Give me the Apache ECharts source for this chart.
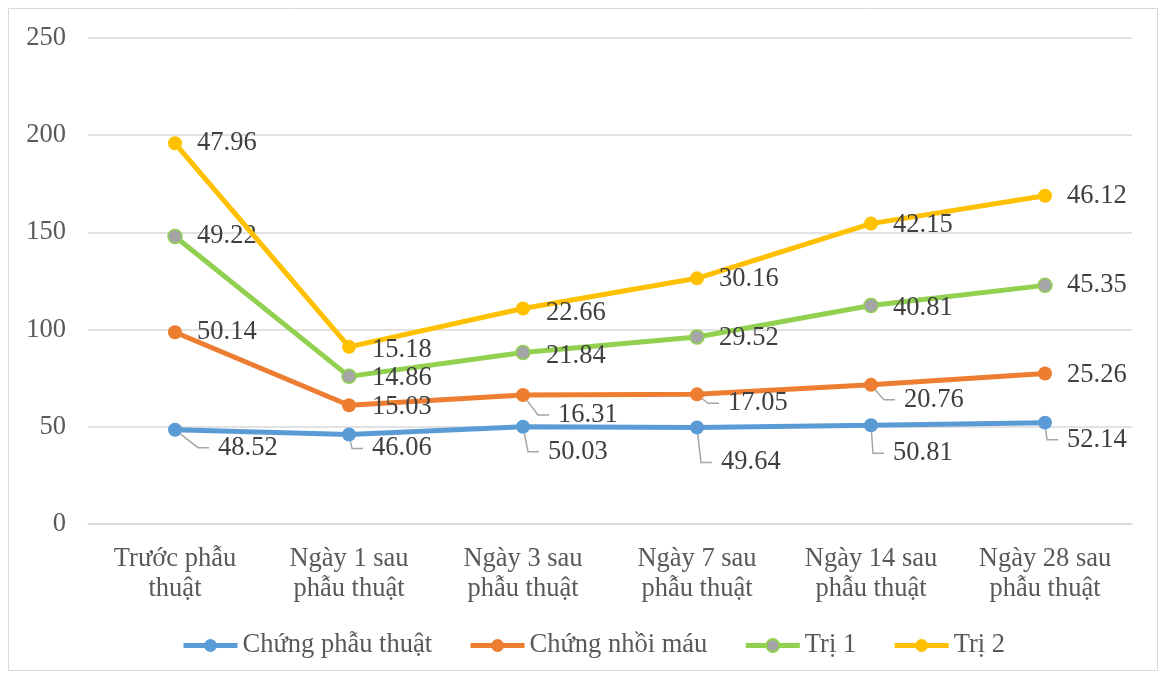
<!DOCTYPE html>
<html>
<head>
<meta charset="utf-8">
<script src="https://cdn.jsdelivr.net/npm/echarts@6/dist/echarts.min.js"></script>
<style>
  html, body { margin: 0; padding: 0; background: #fff; }
  #chart { width: 1159px; height: 675px; }
</style>
</head>
<body>
<div id="chart"></div>
<script>
// Categories (time points)
const categories = [
  'Trước phẫu\nthuật',
  'Ngày 1 sau\nphẫu thuật',
  'Ngày 3 sau\nphẫu thuật',
  'Ngày 7 sau\nphẫu thuật',
  'Ngày 14 sau\nphẫu thuật',
  'Ngày 28 sau\nphẫu thuật'
];

// Series names
const seriesNames = ['Chứng phẫu thuật', 'Chứng nhồi máu', 'Trị 1', 'Trị 2'];

// Series values (stacked)
const chungPhauThuat = [48.52, 46.06, 50.03, 49.64, 50.81, 52.14];
const chungNhoiMau   = [50.14, 15.03, 16.31, 17.05, 20.76, 25.26];
const tri1           = [49.22, 14.86, 21.84, 29.52, 40.81, 45.35];
const tri2           = [47.96, 15.18, 22.66, 30.16, 42.15, 46.12];

// Y axis ticks
const yMin = 0, yMax = 250, yStep = 50;

// Label placement: offset of the label text's left edge / vertical centre from the point
const labelNudge = [
  [[43, 18], [23, 14], [25, 25], [24, 35], [22, 28], [22, 17]],
  [[22, 0], [23, 2], [35, 20], [31, 9], [33, 15], [22, 2]],
  [[22, 0], [23, 2], [23, 3], [22, 1], [22, 3], [22, 0]],
  [[22, 0], [23, 3], [23, 5], [22, 1], [22, 1], [22, 0]]
];
// Which labels get a leader line
const leader = [
  [true, true, true, true, true, true],
  [false, false, true, true, true, false],
  [false, false, false, false, false, false],
  [false, false, false, false, false, false]
];

const colors = ['#5B9BD5', '#ED7D31', '#92D050', '#FFC000'];
const fills  = ['#5B9BD5', '#ED7D31', '#A5A5A5', '#FFC000'];
const allValues = [chungPhauThuat, chungNhoiMau, tri1, tri2];

const FONT = '"Liberation Serif", "Times New Roman", serif';
const FS = 26.5;
const PAD = 9; // gap kept between a leader line's end and its text

const series = allValues.map((vals, s) => ({
  name: seriesNames[s],
  type: 'line',
  stack: 'total',
  data: vals.map((v, i) => ({ value: v, labelLine: { show: leader[s][i] } })),
  symbol: 'circle',
  symbolSize: 14,
  lineStyle: { color: colors[s], width: 5 },
  itemStyle: { color: fills[s], borderColor: colors[s], borderWidth: s === 2 ? 1.5 : 0 },
  label: {
    show: true,
    position: 'right',
    color: '#404040',
    fontFamily: FONT,
    fontSize: FS,
    padding: [0, 0, 0, PAD],
    backgroundColor: 'transparent',
    formatter: p => Number(p.value).toFixed(2)
  },
  labelLine: { show: false, length2: 11, lineStyle: { color: '#A6A6A6', width: 1.5 } },
  labelLayout: function (p) {
    const cx = p.rect.x + p.rect.width / 2;
    const cy = p.rect.y + p.rect.height / 2;
    const n = labelNudge[s][p.dataIndex];
    return { x: cx + n[0] - PAD, y: cy + n[1], align: 'left', verticalAlign: 'middle' };
  },
  z: 2 + s
}));

const chart = echarts.init(document.getElementById('chart'), null, { renderer: 'canvas' });
chart.setOption({
  animation: false,
  backgroundColor: '#fff',
  graphic: [{
    type: 'rect',
    shape: { x: 8.5, y: 8.5, width: 1149, height: 662 },
    style: { fill: 'none', stroke: '#D9D9D9', lineWidth: 1 },
    silent: true,
    z: -1
  }],
  grid: { left: 88, right: 27, top: 38, bottom: 151, containLabel: false },
  legend: {
    bottom: 16,
    left: 181,
    padding: 0,
    itemWidth: 54,
    itemHeight: 16,
    itemGap: 36,
    lineStyle: { width: 5 },
    textStyle: { color: '#595959', fontFamily: FONT, fontSize: FS },
    data: seriesNames
  },
  xAxis: {
    type: 'category',
    data: categories,
    boundaryGap: true,
    axisLine: { show: true, lineStyle: { color: '#D9D9D9', width: 1.5 } },
    axisTick: { show: false },
    axisLabel: {
      color: '#595959',
      fontFamily: FONT,
      fontSize: FS,
      lineHeight: 30,
      margin: 20,
      interval: 0
    }
  },
  yAxis: {
    type: 'value',
    min: yMin,
    max: yMax,
    interval: yStep,
    axisLine: { show: false },
    axisTick: { show: false },
    splitLine: { lineStyle: { color: '#D9D9D9', width: 1.5 } },
    axisLabel: { color: '#595959', fontFamily: FONT, fontSize: FS, margin: 22 }
  },
  series: series
});
</script>
</body>
</html>
